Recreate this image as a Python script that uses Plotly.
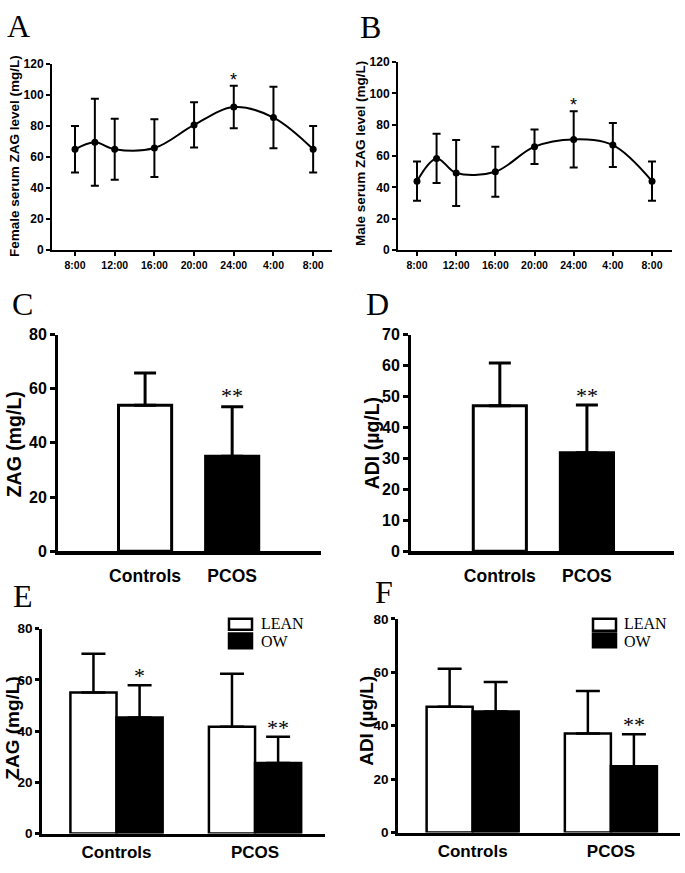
import plotly.graph_objects as go

# ---------------- data ----------------
hours = [0, 2, 4, 8, 12, 16, 20, 24]
hour_ticks = [0, 4, 8, 12, 16, 20, 24]
hour_labels = ["8:00", "12:00", "16:00", "20:00", "24:00", "4:00", "8:00"]
female_zag = [65, 69.5, 65, 65.8, 80.7, 92.2, 85.4, 65]
female_sd = [15, 28, 19.6, 18.6, 14.6, 13.7, 19.8, 15]
female_sig = ["", "", "", "", "", "*", "", ""]
male_zag = [44, 58.5, 49.2, 50, 66, 70.6, 67, 44]
male_sd = [12.5, 15.7, 21, 16, 11, 17.9, 14, 12.5]
male_sig = ["", "", "", "", "", "*", "", ""]

groups = ["Controls", "PCOS"]
zag_all = [53.9, 35.1]
zag_all_sd = [11.9, 18.2]
zag_all_sig = ["", "**"]
adi_all = [47.0, 31.8]
adi_all_sd = [13.8, 15.4]
adi_all_sig = ["", "**"]

zag_lean = [55.1, 41.7]
zag_lean_sd = [15.1, 20.7]
zag_ow = [45.3, 27.6]
zag_ow_sd = [12.6, 10.2]
zag_ow_sig = ["*", "**"]
adi_lean = [47.1, 37.1]
adi_lean_sd = [14.2, 15.9]
adi_ow = [45.3, 24.8]
adi_ow_sd = [11.1, 12.0]
adi_ow_sig = ["", "**"]

bar_colors = ["white", "black"]
series_names = ["LEAN", "OW"]

# ---------------- styles ----------------
W, H = 685, 873
SANS = "Liberation Sans, Arial, Helvetica, sans-serif"
SERIF = "Liberation Serif, Times New Roman, Times, serif"


def px_x(p):
    return p / W


def px_y(p):
    return 1 - p / H


def tfont(size):
    return dict(family=SANS, size=size, color="black", weight="bold")


fig = go.Figure()

# ---- A / B : line charts ----
for i, (vals, sd, sig) in enumerate([(female_zag, female_sd, female_sig),
                                      (male_zag, male_sd, male_sig)]):
    xa = "x" if i == 0 else "x2"
    ya = "y" if i == 0 else "y2"
    fig.add_trace(go.Scatter(
        x=hours, y=vals, mode="lines+markers", xaxis=xa, yaxis=ya,
        line=dict(color="black", width=2, shape="spline", smoothing=1.0),
        marker=dict(color="black", size=7),
        error_y=dict(type="data", array=sd, visible=True, color="black",
                     thickness=2, width=4),
        showlegend=False, hoverinfo="skip"))
    for h, v, s, t in zip(hours, vals, sd, sig):
        if t:
            fig.add_annotation(x=h, y=v + s, xref=xa, yref=ya, text=t,
                               showarrow=False, yanchor="bottom", yshift=-6,
                               font=dict(family=SANS, size=18, color="black"))

# ---- C / D : two-bar charts ----
cd_sets = [(zag_all, zag_all_sd, zag_all_sig, "x3", "y3", -3),
           (adi_all, adi_all_sd, adi_all_sig, "x4", "y4", -5)]
for vals, sd, sig, xa, ya, ys in cd_sets:
    pos = list(range(len(groups)))
    fig.add_trace(go.Bar(
        x=pos, y=vals, xaxis=xa, yaxis=ya, width=0.61,
        marker=dict(color=bar_colors, line=dict(color="black", width=3)),
        error_y=dict(type="data", symmetric=False, array=sd,
                     arrayminus=[0] * len(sd), color="black", thickness=3,
                     width=11),
        showlegend=False, hoverinfo="skip"))
    for p, v, s, t in zip(pos, vals, sd, sig):
        if t:
            fig.add_annotation(x=p, y=v + s, xref=xa, yref=ya, text=t,
                               showarrow=False, yanchor="bottom", yshift=ys,
                               font=dict(family=SERIF, size=22, color="black"))

# ---- E / F : grouped bar charts ----
ef_sets = [((zag_lean, zag_lean_sd), (zag_ow, zag_ow_sd), zag_ow_sig, "x5", "y5"),
           ((adi_lean, adi_lean_sd), (adi_ow, adi_ow_sd), adi_ow_sig, "x6", "y6")]
bw = 0.333
for lean, ow, sig, xa, ya in ef_sets:
    pos = list(range(len(groups)))
    for k, (vals, sd) in enumerate([lean, ow]):
        fig.add_trace(go.Bar(
            x=pos, y=vals, xaxis=xa, yaxis=ya, width=bw,
            offset=-bw if k == 0 else 0,
            marker=dict(color=bar_colors[k], line=dict(color="black", width=2.5)),
            error_y=dict(type="data", symmetric=False, array=sd,
                         arrayminus=[0] * len(sd), color="black", thickness=2.5,
                         width=12),
            name=series_names[k], showlegend=False, hoverinfo="skip"))
    for p, v, s, t in zip(pos, ow[0], ow[1], sig):
        if t:
            fig.add_annotation(x=p + bw / 2, y=v + s, xref=xa, yref=ya, text=t,
                               showarrow=False, yanchor="bottom", yshift=-5,
                               font=dict(family=SERIF, size=22, color="black"))


# ---------------- axes ----------------
def yaxis(top, bottom, rng, dtick, fsize, lw, tl):
    return dict(domain=[px_y(bottom), px_y(top)], range=rng, dtick=dtick, tick0=0,
                showline=True, linecolor="black", linewidth=lw,
                ticks="outside", ticklen=tl, tickwidth=lw, tickcolor="black",
                showgrid=False, zeroline=False, tickfont=tfont(fsize),
                fixedrange=True)


def xaxis_cat(left, right, rng, lw, fsize, standoff):
    return dict(domain=[px_x(left), px_x(right)], range=rng,
                tickmode="array", tickvals=list(range(len(groups))), ticktext=groups,
                showline=True, linecolor="black", linewidth=lw, ticks="",
                showgrid=False, zeroline=False, tickfont=tfont(fsize),
                ticklabelstandoff=standoff, fixedrange=True)


def xaxis_time(left, right, rng):
    return dict(domain=[px_x(left), px_x(right)], range=rng,
                tickmode="array", tickvals=hour_ticks, ticktext=hour_labels,
                showline=True, linecolor="black", linewidth=2,
                ticks="outside", ticklen=4, tickwidth=2, tickcolor="black",
                showgrid=False, zeroline=False, tickfont=tfont(10.5),
                fixedrange=True)


layout = dict(
    width=W, height=H, margin=dict(l=0, r=0, t=0, b=0),
    paper_bgcolor="white", plot_bgcolor="white", showlegend=False,
    xaxis=dict(xaxis_time(52, 332, [-2.32, 25.9]), anchor="y"),
    yaxis=dict(yaxis(57, 247, [0, 120], 20, 12, 2, 4), anchor="x"),
    xaxis2=dict(xaxis_time(398, 672, [-1.94, 26.04]), anchor="y2"),
    yaxis2=dict(yaxis(55, 247, [0, 120], 20, 12, 2, 4), anchor="x2"),
    xaxis3=dict(xaxis_cat(58, 321, [-1.0, 2.02], 3.5, 17.5, 6), anchor="y3"),
    yaxis3=dict(yaxis(333, 554, [0, 80], 20, 16, 3, 5), anchor="x3"),
    xaxis4=dict(xaxis_cat(411, 674, [-1.02, 2.0], 3.5, 17.5, 6), anchor="y4"),
    yaxis4=dict(yaxis(333, 554, [0, 70], 10, 16, 3, 5), anchor="x4"),
    xaxis5=dict(xaxis_cat(42, 325, [-0.538, 1.505], 3, 17, 1), anchor="y5"),
    yaxis5=dict(yaxis(633, 842, [0, 80], 20, 13.5, 2.5, 4), anchor="x5"),
    xaxis6=dict(xaxis_cat(398, 680, [-0.54, 1.5], 3, 17, 1), anchor="y6"),
    yaxis6=dict(yaxis(623, 841, [0, 80], 20, 13.5, 2.5, 4), anchor="x6"),
)
fig.update_layout(**layout)

# ---------------- axis titles ----------------
titles = [
    ("Female serum ZAG level (mg/L)", 14, 151, 13.5),
    ("Male serum ZAG level (mg/L)", 360, 149, 13.5),
    ("ZAG (mg/L)", 14, 445, 19.5),
    ("ADI (µg/L)", 372, 444, 19.5),
    ("ZAG (mg/L)", 13, 735, 19),
    ("ADI (µg/L)", 367, 727, 19),
]
for txt, cx, cy, fs in titles:
    fig.add_annotation(x=px_x(cx), y=px_y(cy), xref="paper", yref="paper",
                       text=txt, textangle=-90, showarrow=False,
                       xanchor="center", yanchor="middle",
                       font=dict(family=SANS, size=fs, color="black", weight="bold"))

# ---------------- panel letters ----------------
letters = [("A", 18, 18), ("B", 370, 19), ("C", 22, 302),
           ("D", 377, 302), ("E", 23, 600), ("F", 384, 596)]
for txt, cx, cy in letters:
    fig.add_annotation(x=px_x(cx), y=px_y(cy), xref="paper", yref="paper",
                       text=txt, showarrow=False, xanchor="center", yanchor="middle",
                       font=dict(family=SERIF, size=32, color="black"))

# ---------------- legends (E, F) ----------------
legend_boxes = [(229, 252, 623, 634, 638, 653, 260), (593, 616, 623, 635, 638, 652, 623)]
for x0, x1, wy0, wy1, by0, by1, tx in legend_boxes:
    fig.add_shape(type="rect", xref="paper", yref="paper",
                  x0=px_x(x0), x1=px_x(x1), y0=px_y(wy1), y1=px_y(wy0),
                  fillcolor=bar_colors[0], line=dict(color="black", width=2.5))
    fig.add_shape(type="rect", xref="paper", yref="paper",
                  x0=px_x(x0), x1=px_x(x1), y0=px_y(by1), y1=px_y(by0),
                  fillcolor=bar_colors[1], line=dict(color="black", width=2.5))
    for name, cy in zip(series_names, [627.5, 646.5]):
        fig.add_annotation(x=px_x(tx), y=px_y(cy), xref="paper", yref="paper",
                           text=name, showarrow=False, xanchor="left", yanchor="middle",
                           borderpad=0,
                           font=dict(family=SERIF, size=16, color="black"))

fig.write_html("out.html", config={"displayModeBar": False},
               post_script="document.body.style.margin='0';"
                           "document.documentElement.style.margin='0';")
